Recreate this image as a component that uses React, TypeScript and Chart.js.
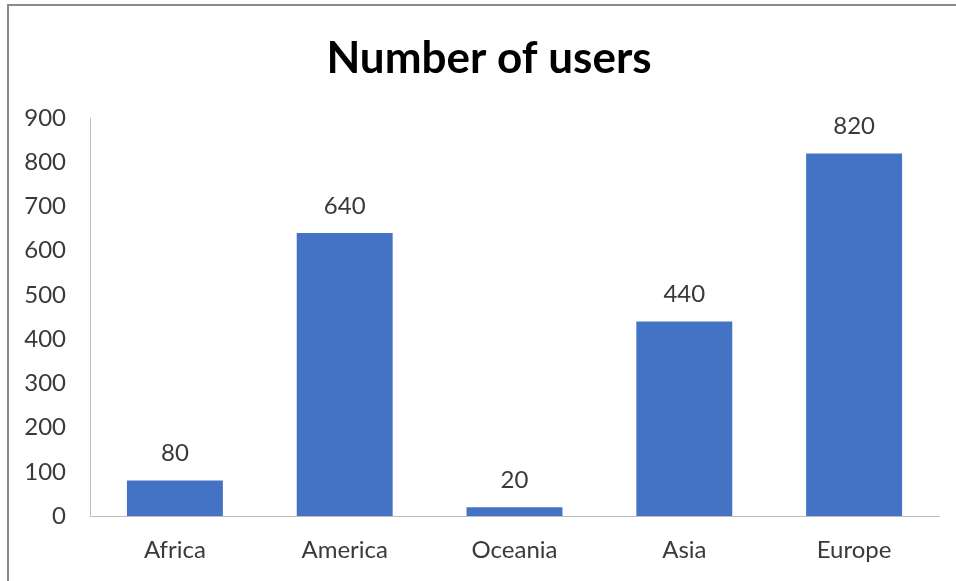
import React, { useEffect, useRef } from "react";
import { Chart, registerables } from "chart.js";

Chart.register(...registerables);

const categories = ["Africa", "America", "Oceania", "Asia", "Europe"];
const users = [80, 640, 20, 440, 820];
const titleText = "Number of users";
const FONT = "Lato, 'Open Sans', sans-serif";
const TEXT = "#3a3a3a";

const valueLabels = {
  id: "valueLabels",
  afterDatasetsDraw(chart: any) {
    const ctx = chart.ctx;
    const meta = chart.getDatasetMeta(0);
    ctx.save();
    ctx.font = `24px ${FONT}`;
    ctx.fillStyle = TEXT;
    ctx.textAlign = "center";
    ctx.textBaseline = "middle";
    meta.data.forEach((bar: any, i: number) => {
      ctx.fillText(String(users[i]), bar.x, bar.y - 27);
    });
    ctx.restore();
  },
};

const customTitle = {
  id: "customTitle",
  afterDraw(chart: any) {
    const ctx = chart.ctx;
    ctx.save();
    ctx.font = `bold 44px ${FONT}`;
    ctx.fillStyle = "#000000";
    ctx.textAlign = "center";
    ctx.textBaseline = "middle";
    ctx.fillText(titleText, 489, 59);
    ctx.restore();
  },
};

export default function App() {
  const ref = useRef<HTMLCanvasElement>(null);
  useEffect(() => {
    document.body.style.margin = "0";
    const chart = new Chart(ref.current!, {
      type: "bar",
      data: {
        labels: categories,
        datasets: [
          {
            data: users,
            backgroundColor: "#4472C4",
            categoryPercentage: 1,
            barPercentage: 0.565,
          },
        ],
      },
      options: {
        animation: false,
        responsive: false,
        maintainAspectRatio: false,
        layout: { padding: { left: 0, right: 17, top: 118, bottom: 0 } },
        plugins: {
          legend: { display: false },
          tooltip: { enabled: false },
          title: { display: false },
        },
        scales: {
          x: {
            grid: { display: false, drawTicks: false },
            border: { display: true, color: "#bfbfbf", width: 1 },
            ticks: {
              color: TEXT,
              font: { family: FONT, size: 24 },
              padding: 20,
            },
            afterFit(scale: any) {
              scale.height = 65;
            },
          },
          y: {
            min: 0,
            max: 900,
            grid: { display: false, drawTicks: false },
            border: { display: true, color: "#bfbfbf", width: 1 },
            ticks: {
              stepSize: 100,
              color: TEXT,
              font: { family: FONT, size: 24 },
              padding: 24,
            },
            afterFit(scale: any) {
              scale.width = 90;
            },
          },
        },
      },
      plugins: [valueLabels, customTitle],
    });
    return () => chart.destroy();
  }, []);
  return (
    <div style={{ position: "fixed", left: 0, top: 0, width: 956, height: 581, background: "#fff" }}>
      <canvas ref={ref} width={956} height={581} style={{ position: "absolute", left: 0, top: 0 }} />
      <div
        style={{
          position: "absolute",
          left: 7,
          top: 4,
          width: 1000,
          height: 700,
          borderLeft: "2px solid #8a8a8a",
          borderTop: "2px solid #8a8a8a",
          pointerEvents: "none",
        }}
      />
    </div>
  );
}
